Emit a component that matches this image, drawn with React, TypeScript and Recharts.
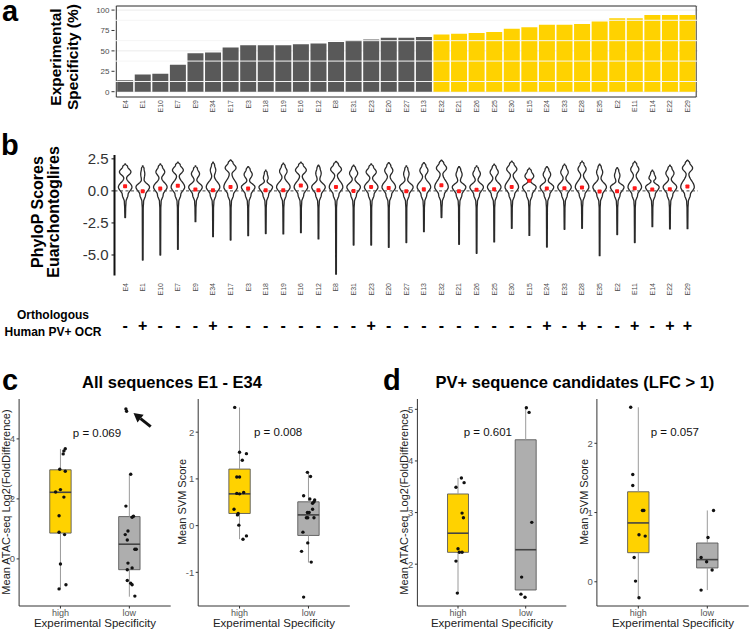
import React from 'react';
import {
  ComposedChart, Bar, Cell, XAxis, YAxis, CartesianGrid, ReferenceLine,
  ReferenceArea, ReferenceDot, Scatter, Line,
} from 'recharts';

// ---------------- data ----------------
const sequences = ['E4','E1','E10','E7','E9','E34','E17','E3','E18','E19','E16','E12','E8','E31','E23','E20','E27','E13','E32','E21','E26','E25','E30','E15','E24','E33','E28','E35','E2','E11','E14','E22','E29'];
const specificityPct = [14,21,22,33,47,48,54,57,57,57,58,59,61,63,64,66,66,67,70,71,72,73,77,79,82,82,83,86,90,90,94,94,94];
const specificityGroup = ['low','low','low','low','low','low','low','low','low','low','low','low','low','low','low','low','low','low','high','high','high','high','high','high','high','high','high','high','high','high','high','high','high'];
const specTicks = [0, 25, 50, 75, 100];
const specMinorTicks = [12.5, 37.5, 62.5, 87.5];

const phyloMax = [2.1,1.95,2.1,2.24,1.95,2.24,2.42,1.9,1.62,2.16,2.24,2.0,2.3,2.0,2.1,2.21,1.95,2.21,2.4,1.9,1.95,2.08,2.32,1.77,1.9,2.08,2.32,2.08,1.82,2.3,1.61,2.0,2.4];
const phyloMin = [-2.08,-5.4,-5.0,-4.56,-2.4,-3.57,-3.83,-3.49,-3.33,-3.36,-3.26,-3.75,-6.5,-4.22,-4.22,-4.4,-4.03,-3.18,-2.08,-4.17,-4.87,-3.98,-2.92,-3.47,-4.38,-3.0,-2.92,-5.05,-3.41,-4.03,-2.79,-2.97,-2.95];
const phyloMean = [0.36,-0.03,0.18,0.4,0.1,0.05,0.31,0.18,0.05,0.05,0.42,0.05,0.31,0.0,0.31,0.23,-0.03,0.13,0.44,-0.03,0.08,0.13,0.31,0.8,0.18,0.2,0.26,-0.05,-0.03,0.2,0.1,0.13,0.34];
// relative density of the upper mode compared with the lower mode
const phyloUpperDensity = [0.85,0.3,0.65,0.8,0.6,0.4,0.8,0.6,0.35,0.55,0.8,0.4,0.8,0.6,0.75,0.6,0.4,0.6,0.75,0.45,0.55,0.6,0.75,0.65,0.55,0.55,0.6,0.45,0.4,0.6,0.5,0.6,0.75];
const phyloTicks = [2.5, 0, -2.5, -5];
const orthologSign = ['-','+','-','-','-','+','-','-','-','-','-','-','-','-','+','-','-','-','-','-','-','-','-','-','+','-','+','-','-','+','-','+','+'];

const groupLabels = ['high', 'low'];
// box stats: [lower whisker, q1, median, q3, upper whisker]
const atacAllHigh = [-1.0, 0.86, 2.22, 2.97, 3.66];
const atacAllLow = [-1.26, -0.36, 0.49, 1.41, 2.82];
const svmAllHigh = [-0.29, 0.26, 0.68, 1.21, 2.53];
const svmAllLow = [-0.79, -0.21, 0.23, 0.51, 1.14];
const atacPvHigh = [1.44, 2.23, 2.6, 3.36, 3.67];
const atacPvLow = [1.5, 1.5, 2.28, 4.41, 5.02];
const svmPvHigh = [-0.23, 0.42, 0.85, 1.3, 2.52];
const svmPvLow = [-0.12, 0.2, 0.32, 0.56, 1.03];

// jittered points [x position (1 = high, 2 = low), value]
const atacAllPoints = [
  [1.07,3.67],[1.05,3.6],[1.04,3.5],[0.99,2.99],[1.07,2.92],[1.0,2.31],[0.93,2.23],[1.05,2.06],[0.98,1.44],[0.98,0.89],[1.06,0.81],[1.0,-0.17],[1.08,-0.86],[0.98,-1.0],
  [2.02,2.82],[1.95,1.76],[2.06,1.42],[2.04,1.39],[1.94,0.81],[1.98,0.93],[1.97,0.63],[2.08,0.32],[2.1,0.32],[1.98,-0.14],[2.04,-0.3],[1.97,-0.36],[1.97,-0.72],[2.02,-0.81],[2.04,-0.86],[2.08,-1.24],[1.95,5.0],[1.96,4.92],
];
const svmAllPoints = [
  [0.93,2.53],[1.0,1.57],[1.1,1.54],[1.04,1.4],[0.96,1.04],[1.0,1.04],[0.96,0.69],[1.0,0.68],[1.06,0.71],[0.92,0.35],[0.98,0.26],[0.97,0.23],[0.99,0.01],[1.1,-0.22],[1.05,-0.29],
  [1.985,1.14],[2.03,1.05],[1.93,0.64],[2.02,0.57],[2.09,0.55],[2.06,0.48],[2.08,0.51],[2.06,0.35],[1.985,0.28],[2.01,0.28],[1.97,0.17],[1.99,0.17],[2.08,0.17],[1.92,-0.14],[1.99,-0.37],[2.04,-0.78],[1.9,-0.55],[1.93,-1.53],
];
const atacPvPoints = [
  [1.05,3.67],[1.09,3.58],[0.97,3.49],[1.06,2.99],[1.08,2.9],[1.0,2.3],[1.02,2.23],[1.06,2.23],[0.97,2.06],[0.99,1.44],
  [2.01,5.03],[2.05,4.94],[2.09,2.81],[1.94,1.75],[1.93,1.42],[1.99,1.36],
];
const svmPvPoints = [
  [0.89,2.52],[0.92,1.55],[0.92,1.39],[1.06,1.03],[1.08,1.03],[1.01,0.68],[1.1,0.66],[0.94,0.35],[0.96,0.01],[1.01,-0.23],
  [2.09,1.03],[2.01,0.64],[1.91,0.35],[1.99,0.29],[2.07,0.17],[1.91,-0.12],
];
const pValues = ['p = 0.069', 'p = 0.008', 'p = 0.601', 'p = 0.057'];

// ---------------- style ----------------
const YELLOW = '#FFD200';
const DARK = '#595959';
const GRAY = '#AEAEAE';
const FONT = '"Liberation Sans", Arial, sans-serif';

// ---------------- helpers ----------------
const SeqTickA = (props: any) => {
  const { x, y, payload } = props;
  const yy = y + 3;
  return (
    <text x={x} y={yy} transform={`rotate(-90 ${x} ${yy})`} textAnchor="end" dominantBaseline="central" fontSize={7} fill="#4d4d4d">
      {payload.value}
    </text>
  );
};

const SeqTickB = (props: any) => {
  const { x, y, payload } = props;
  const yy = y + 7.5;
  const idx = sequences.indexOf(payload.value);
  return (
    <g>
      <text x={x} y={yy} transform={`rotate(-90 ${x} ${yy})`} textAnchor="end" dominantBaseline="central" fontSize={7} fill="#4d4d4d">
        {payload.value}
      </text>
      <text x={x} y={y + 49.5} textAnchor="middle" dominantBaseline="central" fontSize={16} fontWeight="bold" fill="#000">
        {orthologSign[idx]}
      </text>
    </g>
  );
};

const VIOLIN_HALF = 6.8;
const ViolinShape = (props: any) => {
  const { x, y, width, height, payload } = props;
  if (!payload) return null;
  const [lo, hi] = payload.range;
  const top = Math.min(y, y + height);
  const h = Math.abs(height);
  const toPx = (v: number) => top + ((hi - v) / (hi - lo)) * h;
  const cx = x + width / 2;
  const u = payload.upper;
  const levels: [number, number][] = [
    [hi, 0.05],
    [hi - 0.2, 0.1 + 0.3 * u],
    [hi - 0.62, u],
    [Math.max(hi - 1.1, 0.75), 0.2],
    [0.3, 1],
    [-0.3, 0.42],
    [-0.85, 0.12],
    [-1.4, 0.07],
    [lo, 0.05],
  ];
  const pts: [number, number][] = [];
  for (let i = 0; i < levels.length - 1; i++) {
    const [v0, w0] = levels[i];
    const [v1, w1] = levels[i + 1];
    const steps = 8;
    for (let s = 0; s < steps; s++) {
      const t = s / steps;
      const e = (1 - Math.cos(Math.PI * t)) / 2;
      pts.push([v0 + (v1 - v0) * t, w0 + (w1 - w0) * e]);
    }
  }
  pts.push(levels[levels.length - 1]);
  const left = pts.map(([v, w]) => `${(cx - w * VIOLIN_HALF).toFixed(2)},${toPx(v).toFixed(2)}`);
  const right = pts.slice().reverse().map(([v, w]) => `${(cx + w * VIOLIN_HALF).toFixed(2)},${toPx(v).toFixed(2)}`);
  const d = `M${left.join(' L')} L${right.join(' L')} Z`;
  return <path d={d} fill="none" stroke="#2a2a2a" strokeWidth={1.3} strokeLinejoin="round" />;
};

const MeanDot = (props: any) => {
  const { cx, cy } = props;
  if (cx == null || cy == null) return null;
  return <rect x={cx - 2} y={cy - 2} width={4} height={4} rx={0.8} fill="#ff1a1a" />;
};

const PointDot = (props: any) => <circle cx={props.cx} cy={props.cy} r={1.7} fill="#111" />;

const ArrowShape = (props: any) => {
  const { x1, y1, x2, y2 } = props;
  if (x1 == null) return null;
  const ang = Math.atan2(y2 - y1, x2 - x1);
  const L = 9, W = 5;
  const bx = x2 - L * Math.cos(ang), by = y2 - L * Math.sin(ang);
  const px = -Math.sin(ang) * W, py = Math.cos(ang) * W;
  return (
    <g>
      <line x1={x1} y1={y1} x2={bx} y2={by} stroke="#111" strokeWidth={3} />
      <polygon points={`${x2},${y2} ${bx + px},${by + py} ${bx - px},${by - py}`} fill="#111" />
    </g>
  );
};

interface BoxPanelProps {
  left: number; width: number; plotLeft: number; plotRight: number;
  domain: [number, number]; ticks: number[];
  high: number[]; low: number[]; points: number[][];
  pText: string; pPos: [number, number];
  arrow?: [number, number, number, number];
}

const BoxPanel = (p: BoxPanelProps) => {
  const yAxisW = 16;
  const data = p.points.map(([x, y]) => ({ x, y }));
  const boxes = [p.high, p.low];
  const half = 0.155;
  return (
    <div style={{ position: 'absolute', left: p.left, top: 380 }}>
      <ComposedChart
        width={p.width}
        height={250}
        margin={{ top: 19, bottom: 4, left: p.plotLeft - p.left - yAxisW, right: p.left + p.width - p.plotRight }}
      >
        <XAxis
          type="number" dataKey="x" domain={[0.4, 2.6]} ticks={[1, 2]} allowDataOverflow
          tickFormatter={(v: number) => groupLabels[Math.round(v) - 1]}
          height={20} tickSize={2.5} tickMargin={1}
          axisLine={{ stroke: '#333' }} tickLine={{ stroke: '#333' }}
          tick={{ fontSize: 9, fill: '#555' }}
        />
        <YAxis
          type="number" dataKey="y" domain={p.domain} ticks={p.ticks} allowDataOverflow
          width={yAxisW} tickSize={2.5} tickMargin={1.5}
          axisLine={{ stroke: '#333' }} tickLine={{ stroke: '#333' }}
          tick={{ fontSize: 9.5, fill: '#555' }}
        />
        {boxes.map((b, i) => {
          const c = i + 1;
          return (
            <React.Fragment key={`box${i}`}>
              <ReferenceLine segment={[{ x: c, y: b[3] }, { x: c, y: b[4] }]} stroke="#9a9a9a" strokeWidth={1} ifOverflow="visible" />
              <ReferenceLine segment={[{ x: c, y: b[0] }, { x: c, y: b[1] }]} stroke="#9a9a9a" strokeWidth={1} ifOverflow="visible" />
              <ReferenceArea x1={c - half} x2={c + half} y1={b[1]} y2={b[3]} fill={i === 0 ? YELLOW : GRAY} fillOpacity={1} stroke="#5a5a5a" strokeWidth={0.9} ifOverflow="visible" />
              <ReferenceLine segment={[{ x: c - half, y: b[2] }, { x: c + half, y: b[2] }]} stroke="#444" strokeWidth={1.6} ifOverflow="visible" />
            </React.Fragment>
          );
        })}
        <Scatter data={data} dataKey="y" shape={PointDot} isAnimationActive={false} />
        <ReferenceDot
          x={p.pPos[0]} y={p.pPos[1]} r={1} fill="none" stroke="none" ifOverflow="visible"
          label={{ value: p.pText, position: 'center', fontSize: 11.5, fill: '#111' }}
        />
        {p.arrow && (
          <ReferenceLine
            segment={[{ x: p.arrow[0], y: p.arrow[1] }, { x: p.arrow[2], y: p.arrow[3] }]}
            shape={ArrowShape} ifOverflow="visible"
          />
        )}
      </ComposedChart>
    </div>
  );
};

// ---------------- app ----------------
export default function App() {
  const specData = sequences.map((s, i) => ({ seq: s, pct: specificityPct[i], group: specificityGroup[i] }));
  const phyloData = sequences.map((s, i) => ({
    seq: s, range: [phyloMin[i], phyloMax[i]], mean: phyloMean[i], upper: phyloUpperDensity[i],
  }));

  return (
    <div style={{ position: 'absolute', left: 0, top: 0, width: 749, height: 630, background: '#fff', fontFamily: FONT, overflow: 'hidden' }}>
      {/* panel a */}
      <div style={{ position: 'absolute', left: 0, top: 0 }}>
        <ComposedChart width={749} height={125} data={specData} margin={{ top: 6, right: 51, bottom: 3, left: 84.5 }} barCategoryGap="5%">
          <CartesianGrid vertical={false} stroke="#ebebeb" />
          {specMinorTicks.map((v) => (
            <ReferenceLine key={`mn${v}`} y={v} stroke="#f5f5f5" />
          ))}
          <XAxis dataKey="seq" interval={0} height={25} padding={{ left: 1.8, right: 1.8 }} axisLine={false} tickLine={false} tickSize={0} tickMargin={0} tick={SeqTickA} />
          <YAxis
            domain={[-6.5, 105]} ticks={specTicks} width={30} allowDataOverflow axisLine={false}
            tickSize={3} tickMargin={2} tickLine={{ stroke: '#333' }} tick={{ fontSize: 8, fill: '#4d4d4d' }}
          />
          <Bar dataKey="pct" isAnimationActive={false}>
            {specData.map((d, i) => (
              <Cell key={`c${i}`} fill={d.group === 'high' ? YELLOW : DARK} />
            ))}
          </Bar>
          <ReferenceArea y1={-6.5} y2={105} fill="none" stroke="#333" strokeWidth={1} ifOverflow="visible" />
        </ComposedChart>
      </div>

      {/* panel b */}
      <div style={{ position: 'absolute', left: 0, top: 130 }}>
        <ComposedChart width={749} height={220} data={phyloData} margin={{ top: 25, right: 51, bottom: 4.5, left: 74.5 }} barCategoryGap="5%">
          <XAxis dataKey="seq" interval={0} height={70} padding={{ left: 1.8, right: 1.8 }} axisLine={false} tickLine={false} tickSize={0} tickMargin={0} tick={SeqTickB} />
          <YAxis
            domain={[-6.6, 2.8]} ticks={phyloTicks} width={40} allowDataOverflow
            tickFormatter={(v: number) => v.toFixed(1)}
            axisLine={{ stroke: '#111', strokeWidth: 2 }} tickLine={{ stroke: '#111' }}
            tickSize={3} tickMargin={3} tick={{ fontSize: 15, fill: '#333' }}
          />
          <ReferenceLine y={0} stroke="#444" strokeDasharray="3 2.5" />
          <Bar dataKey="range" shape={ViolinShape} isAnimationActive={false} />
          <Line dataKey="mean" stroke="none" dot={MeanDot} activeDot={false} isAnimationActive={false} />
        </ComposedChart>
      </div>

      {/* panel c */}
      <BoxPanel left={0} width={180} plotLeft={19.1} plotRight={170.7} domain={[-1.57, 5.33]} ticks={[0, 2, 4]}
        high={atacAllHigh} low={atacAllLow} points={atacAllPoints} pText={pValues[0]} pPos={[1.53, 4.19]}
        arrow={[2.31, 4.41, 2.06, 4.86]} />
      <BoxPanel left={180} width={190} plotLeft={198.2} plotRight={349.8} domain={[-1.72, 2.71]} ticks={[-1, 0, 1, 2]}
        high={svmAllHigh} low={svmAllLow} points={svmAllPoints} pText={pValues[1]} pPos={[1.56, 2.0]} />
      {/* panel d */}
      <BoxPanel left={395} width={180} plotLeft={417.4} plotRight={566.3} domain={[1.19, 5.2]} ticks={[2, 3, 4, 5]}
        high={atacPvHigh} low={atacPvLow} points={atacPvPoints} pText={pValues[2]} pPos={[1.44, 4.56]} />
      <BoxPanel left={575} width={174} plotLeft={596.9} plotRight={748.7} domain={[-0.35, 2.64]} ticks={[0, 1, 2]}
        high={svmPvHigh} low={svmPvLow} points={svmPvPoints} pText={pValues[3]} pPos={[1.53, 2.16]} />

      {/* text overlay */}
      <svg width={749} height={630} style={{ position: 'absolute', left: 0, top: 0, pointerEvents: 'none' }} fontFamily={FONT}>
        <text x={2} y={21} fontSize={29} fontWeight="bold">a</text>
        <text x={1} y={155} fontSize={29} fontWeight="bold">b</text>
        <text x={2} y={390} fontSize={29} fontWeight="bold">c</text>
        <text x={383} y={390} fontSize={29} fontWeight="bold">d</text>

        <text x={61} y={57} transform="rotate(-90 61 57)" textAnchor="middle" fontSize={15.5} fontWeight="bold">Experimental</text>
        <text x={78} y={57} transform="rotate(-90 78 57)" textAnchor="middle" fontSize={15.5} fontWeight="bold">Specificity (%)</text>

        <text x={43} y={212} transform="rotate(-90 43 212)" textAnchor="middle" fontSize={16} fontWeight="bold">PhyloP Scores</text>
        <text x={59} y={212} transform="rotate(-90 59 212)" textAnchor="middle" fontSize={16} fontWeight="bold">Euarchontoglires</text>

        <text x={53} y={319} textAnchor="middle" fontSize={12} fontWeight="bold">Orthologous</text>
        <text x={53} y={336} textAnchor="middle" fontSize={12} fontWeight="bold">Human PV+ OCR</text>

        <text x={172} y={388} textAnchor="middle" fontSize={16.5} fontWeight="bold">All sequences E1 - E34</text>
        <text x={575} y={388} textAnchor="middle" fontSize={16.5} fontWeight="bold">PV+ sequence candidates (LFC &gt; 1)</text>

        <text x={10} y={502} transform="rotate(-90 10 502)" textAnchor="middle" fontSize={11} fill="#222">Mean ATAC-seq Log2(FoldDifference)</text>
        <text x={186} y={502} transform="rotate(-90 186 502)" textAnchor="middle" fontSize={11} fill="#222">Mean SVM Score</text>
        <text x={408} y={502} transform="rotate(-90 408 502)" textAnchor="middle" fontSize={11} fill="#222">Mean ATAC-seq Log2(FoldDifference)</text>
        <text x={588} y={502} transform="rotate(-90 588 502)" textAnchor="middle" fontSize={11} fill="#222">Mean SVM Score</text>

        <text x={95} y={627} textAnchor="middle" fontSize={11.5} fill="#222">Experimental Specificity</text>
        <text x={274} y={627} textAnchor="middle" fontSize={11.5} fill="#222">Experimental Specificity</text>
        <text x={492} y={627} textAnchor="middle" fontSize={11.5} fill="#222">Experimental Specificity</text>
        <text x={673} y={627} textAnchor="middle" fontSize={11.5} fill="#222">Experimental Specificity</text>
      </svg>
    </div>
  );
}
